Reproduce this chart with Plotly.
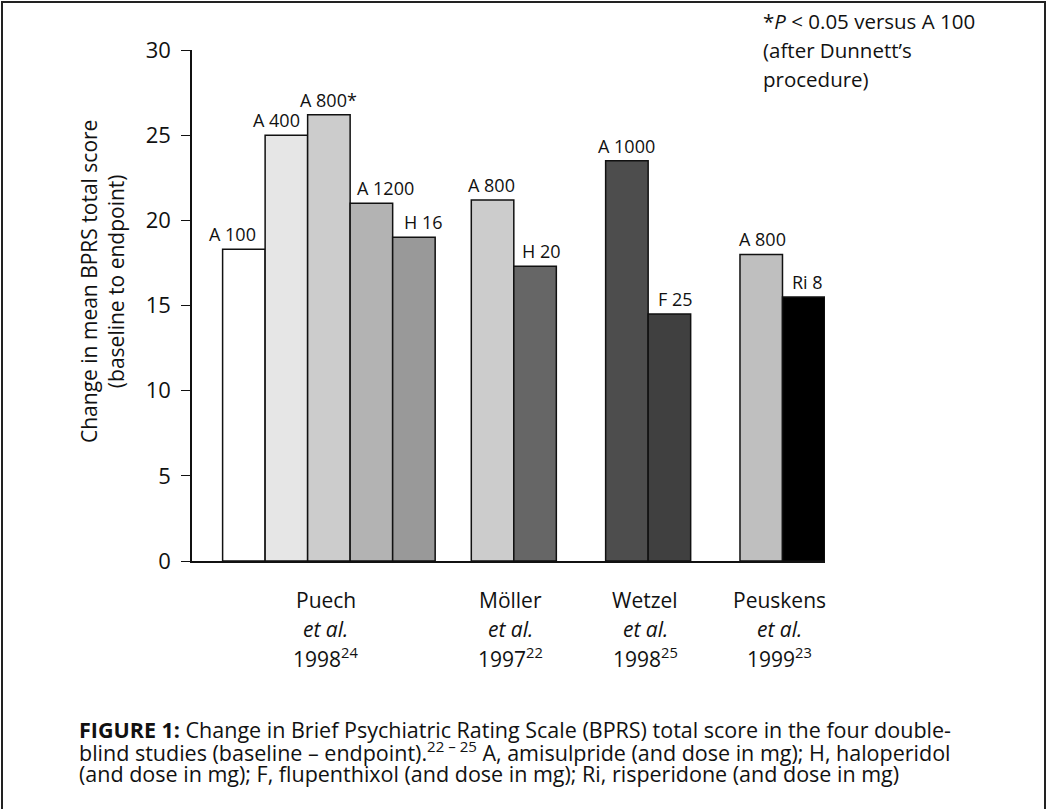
import plotly.graph_objects as go

# Study groups and their treatment arms
studies = ["Puech", "Möller", "Wetzel", "Peuskens"]
study_years = ["1998", "1997", "1998", "1999"]
study_refs = ["24", "22", "25", "23"]
arms_per_study = [5, 2, 2, 2]

arm_labels = ["A 100", "A 400", "A 800*", "A 1200", "H 16",
              "A 800", "H 20",
              "A 1000", "F 25",
              "A 800", "Ri 8"]
bprs_change = [18.3, 25.0, 26.2, 21.0, 19.0,
               21.2, 17.3,
               23.5, 14.5,
               18.0, 15.5]

# Styling
bar_colors = ["#ffffff", "#e6e6e6", "#cccccc", "#b3b3b3", "#999999",
              "#cccccc", "#666666",
              "#4d4d4d", "#404040",
              "#bfbfbf", "#000000"]
label_xshift = [-11, -10, 0, 14, 10, -1, 6, 0, 6, 1, 4]
FONT = "Open Sans"
INK = "#111111"
W, H = 1048, 809
L, R, T, B = 192, 825, 50, 561   # plot area in pixels

# Bar layout: unit-wide bars, groups separated by gaps
lead = 0.72
gaps = [0.85, 1.16, 1.16]
xpos, group_centers = [], []
edge = lead
for g, n in enumerate(arms_per_study):
    if g > 0:
        edge += gaps[g - 1]
    centers = [edge + 0.5 + i for i in range(n)]
    xpos += centers
    group_centers.append((centers[0] + centers[-1]) / 2)
    edge += n
x_max = edge


def px(xp):
    return (xp - L) / (R - L)


def py(yp):
    return (B - yp) / (B - T)


fig = go.Figure(go.Bar(
    x=xpos, y=bprs_change, width=1.0,
    marker=dict(color=bar_colors, line=dict(color=INK, width=1.5)),
    hoverinfo="skip",
))

ann = []
for x, v, lab, dx in zip(xpos, bprs_change, arm_labels, label_xshift):
    ann.append(dict(x=x, y=v, xref="x", yref="y", text=lab, showarrow=False,
                    yanchor="bottom", yshift=1, xshift=dx,
                    font=dict(family=FONT, size=18, color=INK)))

# Study labels under the axis
for gc, name, yr, ref in zip(group_centers, studies, study_years, study_refs):
    for text, ypix in [(name, 600), ("<i>et al.</i>", 629), (f"{yr}<sup>{ref}</sup>", 657)]:
        ann.append(dict(x=gc, xref="x", y=py(ypix), yref="paper", text=text,
                        showarrow=False, xanchor="center", yanchor="middle",
                        xshift=-3,
                        font=dict(family=FONT, size=21, color=INK)))

# Y axis title
ann.append(dict(x=px(102), y=py(282), xref="paper", yref="paper",
                text="Change in mean BPRS total score<br>(baseline to endpoint)",
                textangle=-90, showarrow=False, xanchor="center", yanchor="middle",
                font=dict(family=FONT, size=21, color=INK)))

# Significance note
for text, ypix in [("*<i>P</i> &lt; 0.05 versus A 100", 21),
                   ("(after Dunnett’s", 50), ("procedure)", 79)]:
    ann.append(dict(x=px(761), y=py(ypix), xref="paper", yref="paper", text=text,
                    showarrow=False, xanchor="left", yanchor="middle",
                    font=dict(family=FONT, size=20.5, color=INK)))

# Figure caption
caption = [
    "<b>FIGURE 1:</b> Change in Brief Psychiatric Rating Scale (BPRS) total score in the four double-",
    "blind studies (baseline – endpoint).<sup>22 – 25</sup> A, amisulpride (and dose in mg); H, haloperidol",
    "(and dose in mg); F, flupenthixol (and dose in mg); Ri, risperidone (and dose in mg)",
]
for text, ypix in zip(caption, [729, 751, 773]):
    ann.append(dict(x=px(77), y=py(ypix), xref="paper", yref="paper", text=text,
                    showarrow=False, xanchor="left", yanchor="middle",
                    font=dict(family=FONT, size=21.5, color=INK)))

fig.update_layout(
    width=W, height=H,
    margin=dict(l=L, r=W - R, t=T, b=H - B, pad=0),
    paper_bgcolor="white", plot_bgcolor="white",
    showlegend=False,
    annotations=ann,
    xaxis=dict(range=[0, x_max], showgrid=False, zeroline=False,
               showticklabels=False, ticks="", showline=True,
               linecolor=INK, linewidth=1.5, fixedrange=True),
    yaxis=dict(range=[0, 30], tickvals=[0, 5, 10, 15, 20, 25, 30],
               showgrid=False, zeroline=False, showline=True,
               linecolor=INK, linewidth=1.5, ticks="outside",
               ticklen=9, tickwidth=1.2, tickcolor=INK,
               ticklabelstandoff=6,
               tickfont=dict(family=FONT, size=22, color=INK),
               fixedrange=True),
    shapes=[dict(type="rect", xref="paper", yref="paper",
                 x0=px(2), x1=px(1045), y0=py(812), y1=py(2),
                 line=dict(color="#222222", width=2), fillcolor="rgba(0,0,0,0)")],
)

fig.write_html("out.html")
